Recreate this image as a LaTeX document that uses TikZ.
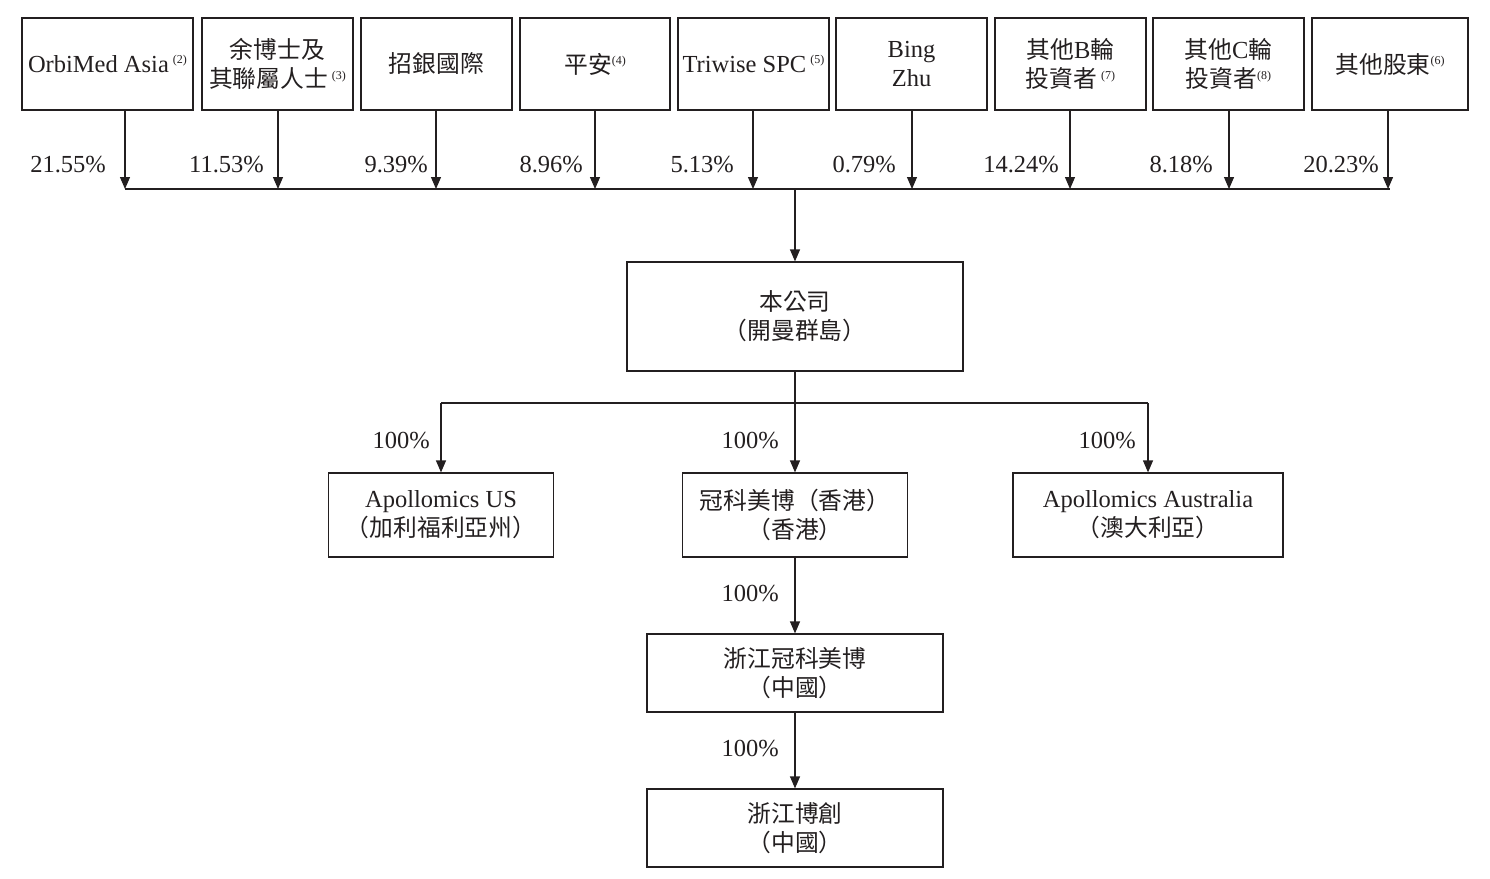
\documentclass[tikz,border=0pt]{standalone}
\usepackage{fontspec}
\setmainfont{Liberation Serif}
\newfontfamily\cjk[Scale=0.97]{Noto Sans CJK TC}
\usetikzlibrary{arrows.meta,positioning,calc}
\definecolor{Ink}{HTML}{231F20}
\newcommand{\zh}[1]{{\cjk #1}}
\newcommand{\fnote}[1]{\raisebox{0.75ex}{\fontsize{12}{12}\selectfont(#1)}}
\tikzset{
    holder/.style = {draw=Ink, rectangle, line width=1.2pt,
        minimum height=92pt, inner sep=0pt, align=center, text=Ink},
    entity/.style = {draw=Ink, rectangle, line width=1.2pt,
        inner sep=0pt, align=center, text=Ink},
    arrow/.style = {draw=Ink, line width=1.2pt, -{Triangle[length=12pt,width=10pt]}},
    link/.style = {draw=Ink, line width=1.2pt},
    pct/.style = {anchor=east, text=Ink, inner sep=0pt}
}

\begin{document}
\begin{tikzpicture}[x=1pt,y=-1pt,font=\fontsize{24.5}{29}\selectfont]
        \useasboundingbox (0,0) rectangle (1490,878);
        % shareholders
        \foreach \n/\cx/\w/\ax/\px/\p/\txt in {
            s1/107.5/171/125/106/21.55/{OrbiMed Asia\,\fnote{2}},
            s2/277.5/151/278/264/11.53/{\zh{余博士及}\\\zh{其聯屬人士}\,\fnote{3}},
            s3/436.5/151/436/428/9.39/{\zh{招銀國際}},
            s4/595/150/595/583/8.96/{\zh{平安}\fnote{4}},
            s5/753.5/151/753/734/5.13/{Triwise SPC\,\fnote{5}},
            s6/911.5/151/912/896/0.79/{Bing\\Zhu},
            s7/1070.5/151/1070/1059/14.24/{\zh{其他}B\zh{輪}\\\zh{投資者}\,\fnote{7}},
            s8/1228.5/151/1229/1213/8.18/{\zh{其他}C\zh{輪}\\\zh{投資者}\fnote{8}},
            s9/1390/156/1388/1379/20.23/{\zh{其他股東}\fnote{6}}}{
            \node[holder, minimum width=\w*1pt] (\n) at (\cx,64) {\txt};
            \coordinate (\n bus) at (\ax,189);
            \draw[arrow] (\n bus |- \n.south) -- (\n bus);
            \node[pct] at (\px,165) {\p\%};
        }
        \draw[link] (s1bus) -- ($(s9bus)+(2,0)$);
        \coordinate (hub) at (795,189);
        % company
        \node[entity, minimum width=336pt, minimum height=109pt] (co) at (795,316.5)
            {\zh{本公司}\\\zh{（開曼群島）}};
        \draw[arrow] (hub) -- (co.north);
        % subsidiaries
        \node[entity, minimum width=225pt, minimum height=84pt] (us) at (441,515)
            {Apollomics US\\\zh{（加利福利亞州）}};
        \node[entity, minimum width=225pt, minimum height=84pt] (hk) at (795,515)
            {\zh{冠科美博（香港）}\\\zh{（香港）}};
        \node[entity, minimum width=270pt, minimum height=84pt] (au) at (1148,515)
            {Apollomics Australia\\\zh{（澳大利亞）}};
        \coordinate (split) at (795,403);
        \draw[link] (co.south) -- (split);
        \draw[link] (us.north |- split) -- (au.north |- split);
        \foreach \s/\px in {us/430,hk/779,au/1136}{
            \draw[arrow] (\s.north |- split) -- (\s.north);
            \node[pct] at (\px,441) {100\%};
        }
        \node[entity, minimum width=296pt, minimum height=78pt] (zj) at (795,673)
            {\zh{浙江冠科美博}\\\zh{（中國）}};
        \node[entity, minimum width=296pt, minimum height=78pt] (bc) at (795,828)
            {\zh{浙江博創}\\\zh{（中國）}};
        \draw[arrow] (hk.south) -- (zj.north);
        \node[pct] at (779,594) {100\%};
        \draw[arrow] (zj.south) -- (bc.north);
        \node[pct] at (779,749) {100\%};
\end{tikzpicture}
\end{document}
